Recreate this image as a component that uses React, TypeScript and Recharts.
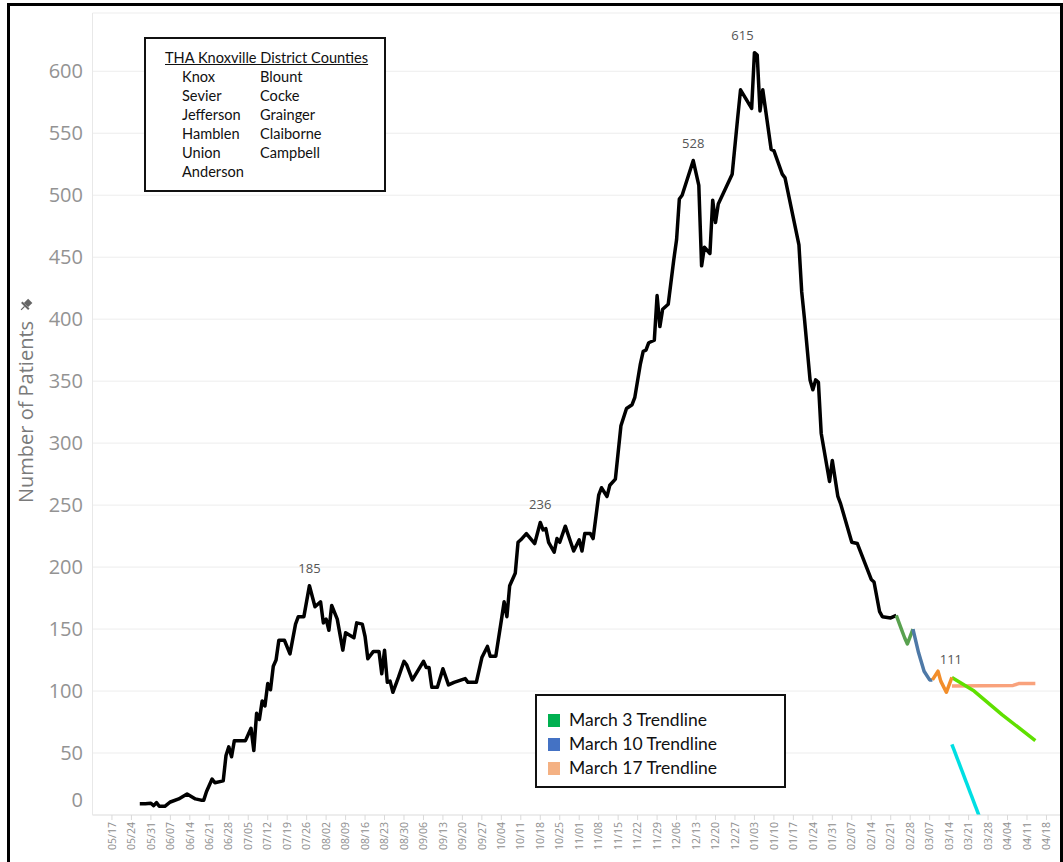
import React from 'react';
import { LineChart, Line, XAxis, YAxis, CartesianGrid, LabelList } from 'recharts';

// Weekly tick labels (Sundays, 2020-05-17 .. 2021-04-25); day 0 = 05/17
const weekLabels = [
  '05/17', '05/24', '05/31', '06/07', '06/14', '06/21', '06/28', '07/05', '07/12', '07/19',
  '07/26', '08/02', '08/09', '08/16', '08/23', '08/30', '09/06', '09/13', '09/20', '09/27',
  '10/04', '10/11', '10/18', '10/25', '11/01', '11/08', '11/15', '11/22', '11/29', '12/06',
  '12/13', '12/20', '12/27', '01/03', '01/10', '01/17', '01/24', '01/31', '02/07', '02/14',
  '02/21', '02/28', '03/07', '03/14', '03/21', '03/28', '04/04', '04/11', '04/18', '04/25',
];
const yTicks = [0, 50, 100, 150, 200, 250, 300, 350, 400, 450, 500, 550, 600];

// Observed patients (black)
const observedDays = [
  10, 12, 14, 15, 16, 17, 19, 21, 24, 27, 30, 32, 33, 34, 36, 37, 40, 41, 42, 43,
  44, 46, 48, 50, 51, 52, 53, 54, 55, 56, 57, 58, 59, 60, 62, 64, 66, 67, 69, 71,
  73, 75, 76, 77, 78, 79, 81, 83, 84, 87, 88, 90, 91, 92, 94, 96, 97, 98, 99, 100,
  101, 103, 105, 106, 108, 112, 113, 114, 115, 117, 119, 121, 123, 127, 128, 131, 133, 135, 136, 138,
  140, 141, 142, 143, 145, 146, 147, 149, 152, 154, 155, 156, 157, 159, 160, 161, 163, 166, 168, 169,
  170, 172, 173, 175, 176, 178, 179, 181, 183, 185, 187, 188, 190, 191, 192, 193, 195, 196, 197, 198,
  200, 202, 203, 204, 205, 209, 211, 212, 213, 215, 216, 217, 218, 223, 225, 226, 230, 231, 232, 233,
  234, 237, 238, 241, 242, 247, 248, 249, 251, 252, 253, 254, 255, 258, 259, 261, 262, 266, 268, 273,
  274, 276, 277, 280, 282,
];
const observedPatients = [
  9, 9, 9.5, 7.5, 10, 7, 7, 10.5, 13, 17, 13, 12, 12, 19, 29, 26, 27.5, 48, 55, 47,
  60, 60, 60, 70, 52, 82, 77, 92, 88, 106, 101, 120, 125, 141, 141, 130, 154, 160, 160, 185,
  168, 172, 155, 158, 149, 169, 158, 133, 147, 143, 155, 154, 144, 126, 132, 132, 114, 133, 107, 108,
  99, 111, 124, 121, 109, 124, 119, 119, 103, 103, 118, 105, 107, 110, 107, 107, 127, 136, 128, 128,
  157, 172, 160, 185, 195, 220, 222, 227, 219, 236, 230, 231, 220, 212, 223, 220, 233, 213, 222, 213,
  227, 227, 223, 258, 264, 257, 266, 271, 314, 328, 331, 337, 364, 374, 375, 381, 383, 419, 394, 408,
  412, 448, 464, 497, 500, 528, 508, 443, 458, 453, 496, 478, 493, 517, 563, 585, 570, 615, 613, 568,
  585, 537, 536, 517, 514, 460, 422, 400, 351, 343, 351, 349, 308, 269, 286, 257, 251, 220, 219, 190,
  188, 164, 160, 159, 161,
];

// Coloured recent segments
const greenDays = [282, 284, 285, 286, 288];
const greenPatients = [161, 149, 143, 138, 150];
const blueDays = [288, 290, 292, 294, 295];
const bluePatients = [150, 131, 116, 109, 109];
const orangeDays = [295, 297, 298, 300, 302];
const orangePatients = [109, 116, 108, 99, 111];

// Trendlines
const limeDays = [302, 310, 320, 332];
const limePatients = [111, 100, 81, 60];
const salmonDays = [302, 324, 326, 332];
const salmonPatients = [104, 104.5, 106, 106];
const cyanDays = [302, 312];
const cyanPatients = [57, -2];

// Annotated peaks (day, value)
const peakDays = [71, 154, 209, 231];
const peakLabels = [185, 236, 528, 615];
const lastLabel = 111;

const countiesLeft = ['Knox', 'Sevier', 'Jefferson', 'Hamblen', 'Union', 'Anderson'];
const countiesRight = ['Blount', 'Cocke', 'Grainger', 'Claiborne', 'Campbell'];
const legendNames = ['March 3 Trendline', 'March 10 Trendline', 'March 17 Trendline'];
const legendColors = ['#00b050', '#4472c4', '#f4b183'];

const zip = (days: number[], vals: number[]) => days.map((d, i) => ({ d, v: vals[i] }));

const observed = zip(observedDays, observedPatients);
const green = zip(greenDays, greenPatients);
const blue = zip(blueDays, bluePatients);
const orange = zip(orangeDays, orangePatients);
const lime = zip(limeDays, limePatients);
const salmon = zip(salmonDays, salmonPatients);
const cyan = zip(cyanDays, cyanPatients);

const weekTicks = weekLabels.map((_, i) => i * 7);

const XTick = (props: any) => {
  const { x, y, payload } = props;
  const label = weekLabels[Math.round(payload.value / 7)];
  return (
    <text
      x={x}
      y={y}
      transform={`rotate(-90 ${x} ${y})`}
      textAnchor="end"
      dy="0.35em"
      fontSize={10.5}
      fill="#8e8e8e"
      fontFamily="'Open Sans', sans-serif"
    >
      {label}
    </text>
  );
};

const YTick = (props: any) => {
  const { x, y, payload } = props;
  const shift = payload.value === 0 ? -15 : 0;
  return (
    <text
      x={x}
      y={y + shift}
      dy="0.35em"
      textAnchor="end"
      fontSize={20}
      fill="#939393"
      fontFamily="'Open Sans', sans-serif"
    >
      {payload.value}
    </text>
  );
};

const YTitle = () => (
  <g>
    <text
      x={33}
      y={412}
      transform="rotate(-90 33 412)"
      textAnchor="middle"
      fontSize={20}
      fill="#7a7a7a"
      fontFamily="'Open Sans', sans-serif"
    >
      Number of Patients
    </text>
    <g transform="translate(26 305) rotate(45)" fill="#666">
      <rect x={-3} y={-6} width={6} height={6} />
      <rect x={-5} y={0} width={10} height={2} />
      <rect x={-0.6} y={2} width={1.2} height={5} />
    </g>
  </g>
);

const renderPeak = (props: any) => {
  const { x, y, value, index } = props;
  const k = peakDays.indexOf(observedDays[index]);
  if (k < 0 || peakLabels[k] !== value) return null;
  const dx = value === 615 ? -12 : 0;
  return (
    <text
      x={x + dx}
      y={y - 13}
      textAnchor="middle"
      fontSize={13}
      fill="#555"
      fontFamily="'Open Sans', sans-serif"
    >
      {value}
    </text>
  );
};

const renderLast = (props: any) => {
  const { x, y, value } = props;
  if (value !== lastLabel) return null;
  return (
    <text
      x={x - 1}
      y={y - 13}
      textAnchor="middle"
      fontSize={13}
      fill="#555"
      fontFamily="'Open Sans', sans-serif"
    >
      {value}
    </text>
  );
};

const boxFont = "Lato, 'Liberation Sans', sans-serif";

export default function App() {
  return (
    <div
      style={{
        position: 'absolute',
        left: 0,
        top: 0,
        width: 1063,
        height: 862,
        overflow: 'hidden',
        background: '#fff',
      }}
    >
      <div style={{ position: 'absolute', left: 0, top: 0 }}>
        <LineChart width={1100} height={880} margin={{ top: 13, right: 14.6, bottom: 0, left: 0 }}>
          <CartesianGrid vertical={false} stroke="#ededed" />
          <XAxis
            dataKey="d"
            type="number"
            domain={[-7, 350]}
            allowDataOverflow
            ticks={weekTicks}
            interval={0}
            height={65}
            tickSize={5}
            tickMargin={2}
            tick={<XTick />}
            axisLine={{ stroke: '#e4e4e4' }}
            tickLine={{ stroke: '#d9d9d9' }}
          />
          <YAxis
            dataKey="v"
            type="number"
            domain={[0, 647]}
            allowDataOverflow
            ticks={yTicks}
            interval={0}
            width={92.5}
            tickSize={0}
            tickMargin={9.5}
            tick={<YTick />}
            axisLine={{ stroke: '#e8e8e8' }}
            tickLine={false}
            label={<YTitle />}
          />
          <Line data={observed} dataKey="v" stroke="#000" strokeWidth={3.5} dot={false} isAnimationActive={false} strokeLinejoin="round">
            <LabelList dataKey="v" content={renderPeak} />
          </Line>
          <Line data={green} dataKey="v" stroke="#59a14f" strokeWidth={3.5} dot={false} isAnimationActive={false} strokeLinejoin="round" />
          <Line data={blue} dataKey="v" stroke="#4e79a7" strokeWidth={3.5} dot={false} isAnimationActive={false} strokeLinejoin="round" />
          <Line data={salmon} dataKey="v" stroke="#f9a27c" strokeWidth={3.5} dot={false} isAnimationActive={false} strokeLinejoin="round" />
          <Line data={cyan} dataKey="v" stroke="#00dfe3" strokeWidth={3.5} dot={false} isAnimationActive={false} strokeLinejoin="round" />
          <Line data={lime} dataKey="v" stroke="#5fe000" strokeWidth={3.5} dot={false} isAnimationActive={false} strokeLinejoin="round" />
          <Line data={orange} dataKey="v" stroke="#f28e2b" strokeWidth={3.5} dot={false} isAnimationActive={false} strokeLinejoin="round">
            <LabelList dataKey="v" content={renderLast} />
          </Line>
        </LineChart>
      </div>

      {/* Counties box */}
      <div
        style={{
          position: 'absolute',
          left: 144,
          top: 37,
          width: 242,
          height: 155,
          boxSizing: 'border-box',
          border: '2px solid #111',
          background: '#fff',
          fontFamily: boxFont,
          fontSize: 14.6,
          color: '#111',
        }}
      >
        <div style={{ position: 'absolute', left: 19, top: 10, lineHeight: '18px', textDecoration: 'underline', whiteSpace: 'nowrap' }}>
          THA Knoxville District Counties
        </div>
        {countiesLeft.map((c, i) => (
          <div key={c} style={{ position: 'absolute', left: 36, top: 28.5 + i * 19.1, lineHeight: '18px', whiteSpace: 'nowrap' }}>
            {c}
          </div>
        ))}
        {countiesRight.map((c, i) => (
          <div key={c} style={{ position: 'absolute', left: 114, top: 28.5 + i * 19.1, lineHeight: '18px', whiteSpace: 'nowrap' }}>
            {c}
          </div>
        ))}
      </div>

      {/* Trendline legend box */}
      <div
        style={{
          position: 'absolute',
          left: 535,
          top: 694,
          width: 251,
          height: 94,
          boxSizing: 'border-box',
          border: '2px solid #111',
          background: '#fff',
          fontFamily: boxFont,
          fontSize: 17.5,
          color: '#111',
        }}
      >
        {legendNames.map((n, i) => (
          <div key={n} style={{ position: 'absolute', left: 11, top: 13 + i * 24, height: 22, display: 'flex', alignItems: 'center', whiteSpace: 'nowrap' }}>
            <span style={{ display: 'inline-block', width: 12, height: 13, background: legendColors[i], marginRight: 9 }} />
            <span style={{ lineHeight: '22px' }}>{n}</span>
          </div>
        ))}
      </div>

      {/* Outer frame */}
      <div
        style={{
          position: 'absolute',
          left: 7,
          top: 3,
          width: 1056,
          height: 920,
          boxSizing: 'border-box',
          border: '3px solid #000',
          pointerEvents: 'none',
        }}
      />
    </div>
  );
}
